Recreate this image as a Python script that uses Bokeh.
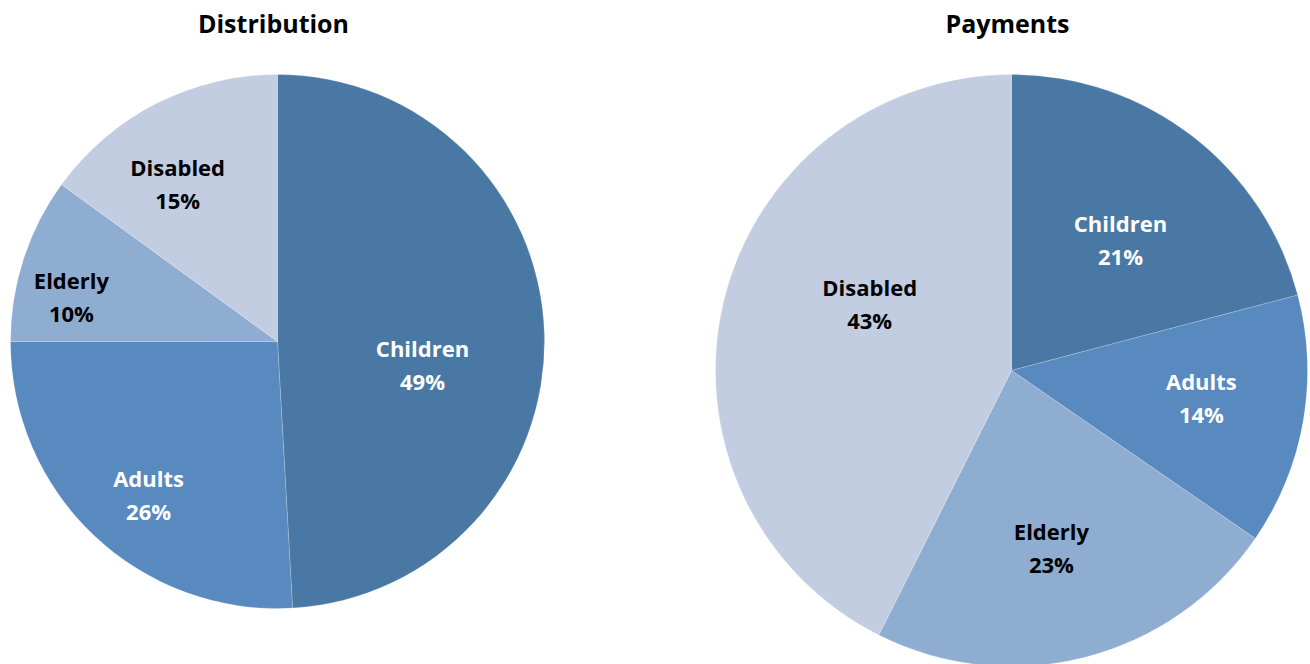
import math
from bokeh.plotting import figure
from bokeh.models import ColumnDataSource, Range1d
from bokeh.core.properties import value
from bokeh.embed import file_html
from bokeh.resources import INLINE

categories = ["Children", "Adults", "Elderly", "Disabled"]
distribution = [49.1, 25.9, 10.0, 15.0]
payments = [20.9, 13.7, 22.8, 42.6]
colors = ["#4A78A4", "#588ABF", "#8FADD1", "#C3CDE2"]
text_colors = ["white", "white", "black", "black"]

W, H = 1310, 664
FONT = "Open Sans"

p = figure(width=W, height=H, x_range=Range1d(0, W), y_range=Range1d(0, H),
           output_backend="svg", toolbar_location=None, min_border=0)
p.axis.visible = False
p.grid.visible = False
p.outline_line_color = None
p.background_fill_color = "white"


def pie(vals, cx, cy, R, title, label_frac, label_shift):
    total = sum(vals)
    starts, ends, lx, ly, names, pcts = [], [], [], [], [], []
    cum = 0.0
    for i, v in enumerate(vals):
        a0 = cum / total * 2 * math.pi
        cum += v
        a1 = cum / total * 2 * math.pi
        # clockwise from 12 o'clock
        starts.append(math.pi / 2 - a1)
        ends.append(math.pi / 2 - a0)
        mid = (a0 + a1) / 2 + math.radians(label_shift[i])
        r = R * label_frac[i]
        lx.append(cx + r * math.sin(mid))
        ly.append(cy + r * math.cos(mid))
        names.append(categories[i])
        pcts.append(f"{round(v / total * 100)}%")
    src = ColumnDataSource(dict(start=starts, end=ends, color=colors,
                                lx=lx, ly=ly, name=names, pct=pcts,
                                tc=text_colors))
    p.wedge(x=cx, y=cy, radius=R, start_angle="start", end_angle="end",
            fill_color="color", line_color="white", line_width=0.6,
            line_alpha=0.3, source=src)
    for col, off in (("name", -16.5), ("pct", 16.5)):
        p.text(x="lx", y="ly", text=col, source=src, text_color="tc",
               text_font=value(FONT), text_font_style="bold",
               text_font_size="22px", text_align="center",
               text_baseline="middle", y_offset=off)
    p.text(x=[cx - 4], y=[H - 22], text=[title], text_color="black",
           text_font=value(FONT), text_font_style="bold", text_font_size="25px",
           text_align="center", text_baseline="middle")


pie(distribution, 277, H - 341, 267, "Distribution",
    [0.55, 0.75, 0.79, 0.70], [10.7, -3.3, -5.7, -5.3])
pie(payments, 1011, H - 370, 296, "Payments",
    [0.575, 0.648, 0.613, 0.53], [2.2, -1.8, 1.7, 12.0])

open("out.html", "w").write(file_html(p, INLINE))
